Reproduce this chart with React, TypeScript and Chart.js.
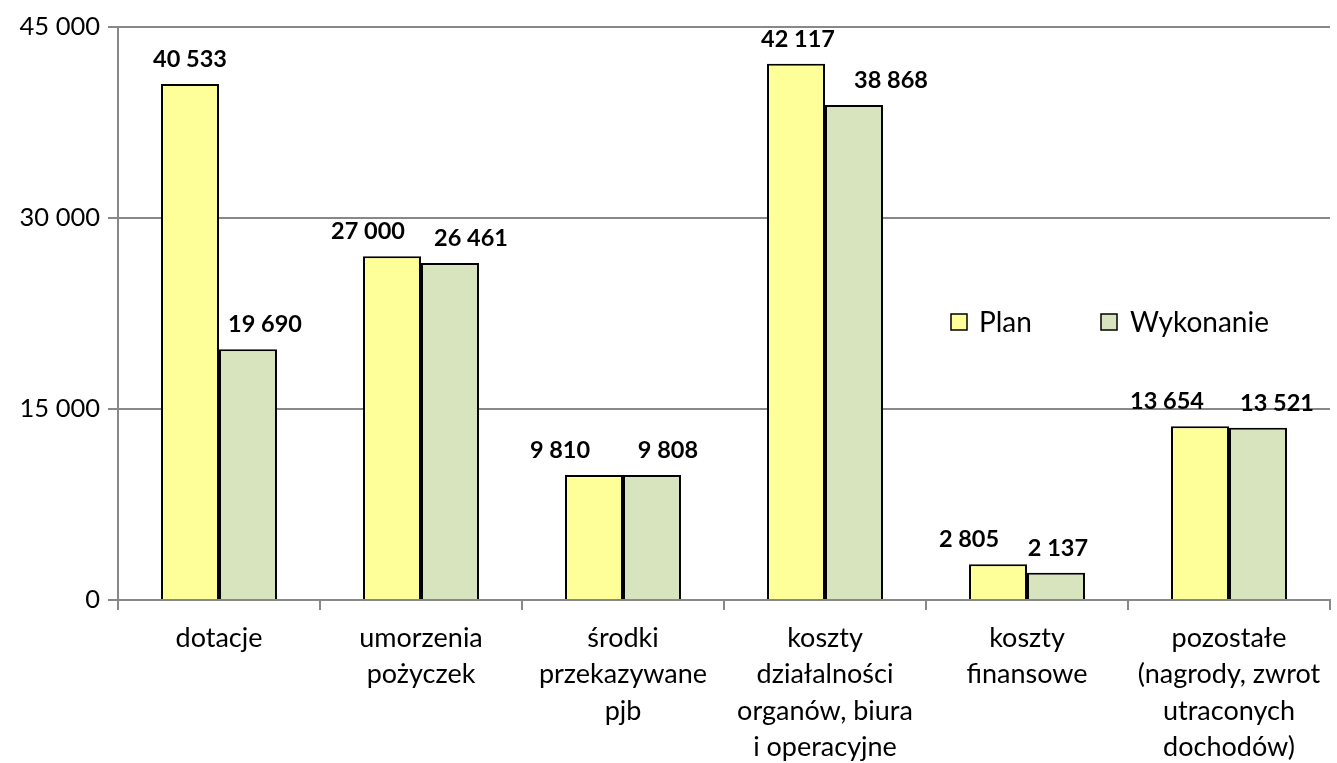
import React, { useEffect, useRef } from "react";
import { Chart, registerables } from "chart.js";

Chart.register(...registerables);

const categories: string[][] = [
  ["dotacje"],
  ["umorzenia", "pożyczek"],
  ["środki", "przekazywane", "pjb"],
  ["koszty", "działalności", "organów, biura", "i operacyjne"],
  ["koszty", "finansowe"],
  ["pozostałe", "(nagrody, zwrot", "utraconych", "dochodów)"],
];
const planValues = [40533, 27000, 9810, 42117, 2805, 13654];
const wykonanieValues = [19690, 26461, 9808, 38868, 2137, 13521];
const seriesNames = ["Plan", "Wykonanie"];
const yTicks = [0, 15000, 30000, 45000];

const FONT = "Lato, 'Open Sans', sans-serif";
const fmt = (v: number) => String(Math.round(v)).replace(/\B(?=(\d{3})+(?!\d))/g, " ");

// horizontal nudges of the value labels (as placed in the original), px
const labelNudges = [
  [0, -24, -34, 2, -29, -33],
  [17, 21, 16, 37, 2, 19],
];

const labelPlugin = {
  id: "barLabels",
  afterDatasetsDraw(chart: any) {
    const ctx = chart.ctx;
    ctx.save();
    ctx.font = `bold 23.5px ${FONT}`;
    ctx.fillStyle = "#000";
    ctx.textAlign = "center";
    ctx.textBaseline = "alphabetic";
    chart.data.datasets.forEach((ds: any, di: number) => {
      const meta = chart.getDatasetMeta(di);
      meta.data.forEach((bar: any, i: number) => {
        ctx.fillText(fmt(ds.data[i]), bar.x + labelNudges[di][i], bar.y - 17);
      });
    });
    ctx.restore();
  },
};

const legendPlugin = {
  id: "customLegend",
  afterDraw(chart: any) {
    const ctx = chart.ctx;
    ctx.save();
    const items = [
      { x: 951, tx: 979, color: "#FFFF99" },
      { x: 1101, tx: 1130, color: "#D7E4BD" },
    ];
    ctx.font = `28px ${FONT}`;
    ctx.textBaseline = "middle";
    ctx.textAlign = "left";
    items.forEach((it, i) => {
      ctx.fillStyle = it.color;
      ctx.fillRect(it.x, 314, 16, 16);
      ctx.strokeStyle = "#000";
      ctx.lineWidth = 1.5;
      ctx.strokeRect(it.x, 314, 16, 16);
      ctx.fillStyle = "#000";
      ctx.fillText(seriesNames[i], it.tx, 323);
    });
    ctx.restore();
  },
};

export default function App() {
  const ref = useRef<HTMLCanvasElement>(null);
  useEffect(() => {
    if (!ref.current) return;
    const chart = new Chart(ref.current, {
      type: "bar",
      data: {
        labels: categories,
        datasets: [
          {
            label: seriesNames[0],
            data: planValues,
            backgroundColor: "#FFFF99",
            borderColor: "#000",
            borderWidth: 2,
            categoryPercentage: 0.574,
            barPercentage: 1,
          },
          {
            label: seriesNames[1],
            data: wykonanieValues,
            backgroundColor: "#D7E4BD",
            borderColor: "#000",
            borderWidth: 2,
            categoryPercentage: 0.574,
            barPercentage: 1,
          },
        ],
      },
      plugins: [labelPlugin, legendPlugin],
      options: {
        animation: false,
        responsive: false,
        layout: { padding: { top: 27, right: 7, left: 0, bottom: 0 } },
        plugins: {
          legend: { display: false },
          tooltip: { enabled: false },
        },
        scales: {
          x: {
            grid: {
              display: true,
              drawOnChartArea: false,
              drawTicks: true,
              tickLength: 10,
              color: "#888",
              lineWidth: 2,
              offset: true,
            },
            border: { display: true, color: "#888", width: 2 },
            ticks: {
              color: "#000",
              font: { family: FONT, size: 27, lineHeight: 1.35 },
              padding: 10,
              maxRotation: 0,
              autoSkip: false,
            },
            afterFit: (scale: any) => {
              scale.height = 163;
            },
          },
          y: {
            min: 0,
            max: 45000,
            afterBuildTicks: (scale: any) => {
              scale.ticks = yTicks.map((v) => ({ value: v }));
            },
            grid: {
              color: "#888",
              lineWidth: 2,
              tickLength: 10,
            },
            border: { display: true, color: "#888", width: 2 },
            ticks: {
              color: "#000",
              font: { family: FONT, size: 25.5 },
              padding: 8,
              callback: (v: any) => fmt(Number(v)),
            },
            afterFit: (scale: any) => {
              scale.width = 118;
            },
          },
        },
      },
    });
    return () => chart.destroy();
  }, []);
  return (
    <div style={{ position: "fixed", left: 0, top: 0, width: 1337, height: 763, background: "#fff" }}>
      <canvas ref={ref} width={1337} height={763} style={{ width: 1337, height: 763 }} />
    </div>
  );
}
